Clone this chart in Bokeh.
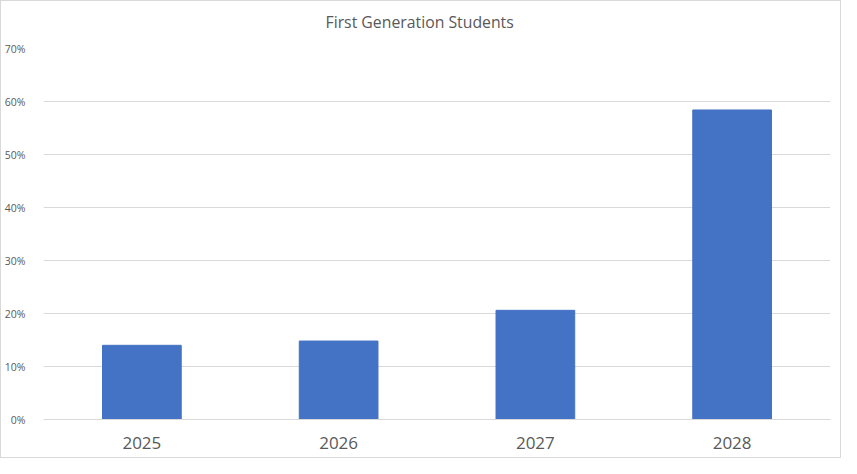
from bokeh.plotting import figure
from bokeh.models import FactorRange, Range1d, NumeralTickFormatter, FixedTicker, ColumnDataSource, Title
from bokeh.embed import file_html
from bokeh.resources import INLINE

years = ["2025", "2026", "2027", "2028"]
share = [0.140, 0.148, 0.206, 0.584]
y_ticks = [0.0, 0.1, 0.2, 0.3, 0.4, 0.5, 0.6, 0.7]
title_text = "First Generation Students"

src = ColumnDataSource(dict(year=years, share=share))

p = figure(
    x_range=FactorRange(*years, range_padding=0),
    y_range=Range1d(0, 0.7),
    width=841, height=458,
    output_backend="svg", toolbar_location=None,
    min_border_left=38, min_border_right=12, min_border_top=47, min_border_bottom=40,
    title=None,
)
p.styles = {"border": "1px solid #d9d9d9", "box-sizing": "border-box"}

p.vbar(x="year", top="share", width=0.4, source=src, fill_color="#4472C4", line_color="#4472C4")

# spacer between title and plot frame
p.add_layout(Title(text=" ", text_font_size="1px", standoff=6), "above")
p.add_layout(Title(text=title_text, align="left", offset=282, vertical_align="top",
                   standoff=10, text_font="Open Sans", text_font_size="15.8px",
                   text_font_style="normal", text_color="#595959"), "above")

p.outline_line_color = None
p.background_fill_color = "white"
p.border_fill_color = "white"

p.xgrid.grid_line_color = None
p.ygrid.grid_line_color = "#d9d9d9"
p.ygrid.grid_line_width = 1
p.ygrid.ticker = FixedTicker(ticks=y_ticks)

p.yaxis.ticker = FixedTicker(ticks=y_ticks)
p.yaxis.formatter = NumeralTickFormatter(format="0%")
p.yaxis.axis_line_color = None
p.yaxis.major_tick_line_color = None
p.yaxis.minor_tick_line_color = None
p.yaxis.major_label_text_font = "Open Sans"
p.yaxis.major_label_text_font_size = "10.5px"
p.yaxis.major_label_text_color = "#595959"
p.yaxis.major_label_standoff = 12

p.xaxis.axis_line_color = "#d9d9d9"
p.xaxis.major_tick_line_color = None
p.xaxis.minor_tick_line_color = None
p.xaxis.major_label_text_font = "Open Sans"
p.xaxis.major_label_text_font_size = "17px"
p.xaxis.major_label_text_color = "#595959"
p.xaxis.major_label_standoff = 11

open("out.html", "w").write(file_html(p, INLINE))
